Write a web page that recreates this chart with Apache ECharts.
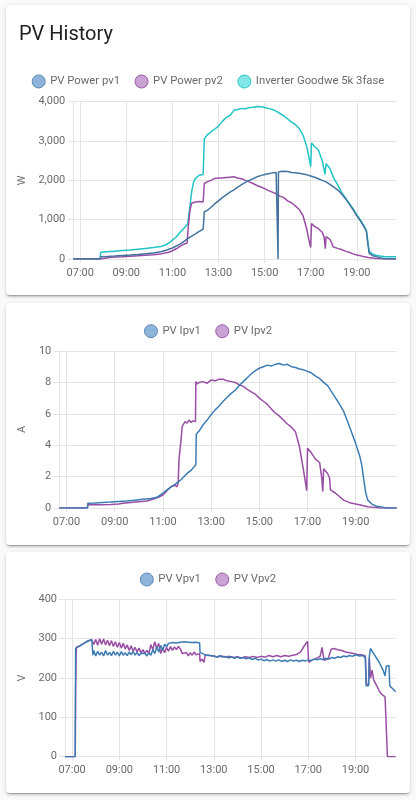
<!DOCTYPE html>
<html>
<head>
<meta charset="utf-8">
<script src="https://cdn.jsdelivr.net/npm/echarts@6/dist/echarts.min.js"></script>
<style>
  html, body { margin: 0; padding: 0; background: #fafafa; width: 416px; height: 800px; overflow: hidden; }
  .card { position: absolute; left: 6px; width: 404px; background: #fff; border-radius: 4px;
          box-shadow: 0 2px 2px 0 rgba(0,0,0,0.14), 0 1px 5px 0 rgba(0,0,0,0.12), 0 3px 1px -2px rgba(0,0,0,0.2); }
  #chart { position: absolute; left: 0; top: 0; width: 416px; height: 800px; }
</style>
</head>
<body>
<div class="card" style="top:5px;height:290px"></div>
<div class="card" style="top:303px;height:242px"></div>
<div class="card" style="top:552px;height:241px"></div>
<div id="chart"></div>
<script>
// ---- data (time "HH:MM", value) ----
const timeRange = ["06:42", "20:42"];
const hourTicks = [7, 9, 11, 13, 15, 17, 19];

const powerPv1 = [["06:42",0],["07:52",0],["07:53",60],["08:10",65],["08:30",75],["08:50",90],["09:10",100],["09:30",115],["09:50",135],["10:10",150],["10:30",185],["10:45",230],["11:00",280],["11:10",330],["11:20",380],["11:30",450],["11:40",520],["11:50",580],["12:00",640],["12:10",700],["12:20",760],["12:22",780],["12:23",1200],["12:30",1230],["12:40",1310],["12:50",1400],["13:00",1480],["13:10",1560],["13:20",1630],["13:30",1700],["13:40",1760],["13:50",1830],["14:00",1890],["14:10",1950],["14:20",2000],["14:30",2040],["14:40",2090],["14:50",2120],["15:00",2150],["15:10",2170],["15:20",2190],["15:30",2200],["15:34",2210],["15:35",0],["15:36",2215],["15:45",2230],["15:50",2210],["16:00",2225],["16:10",2200],["16:20",2195],["16:30",2180],["16:40",2160],["16:50",2140],["17:00",2110],["17:10",2080],["17:20",2040],["17:30",2000],["17:40",1960],["17:50",1900],["18:00",1830],["18:10",1760],["18:20",1660],["18:30",1540],["18:40",1400],["18:50",1260],["19:00",1100],["19:10",960],["19:20",800],["19:25",700],["19:28",450],["19:32",150],["19:40",90],["19:50",60],["20:00",35],["20:10",15],["20:20",5],["20:30",0],["20:42",0]];

const powerPv2 = [["06:42",0],["07:52",0],["07:53",40],["08:20",45],["08:50",55],["09:10",70],["09:30",80],["09:50",95],["10:10",110],["10:30",130],["10:50",170],["11:00",210],["11:10",260],["11:20",320],["11:30",380],["11:35",360],["11:38",400],["11:42",900],["11:46",1250],["11:50",1420],["12:00",1450],["12:05",1420],["12:10",1460],["12:15",1440],["12:20",1450],["12:22",1470],["12:23",1920],["12:30",1960],["12:40",2000],["12:50",2050],["13:00",2060],["13:10",2060],["13:20",2070],["13:30",2080],["13:40",2090],["13:50",2060],["14:00",2040],["14:10",2000],["14:20",1960],["14:30",1920],["14:40",1870],["14:50",1830],["15:00",1790],["15:10",1740],["15:20",1700],["15:30",1660],["15:40",1600],["15:50",1560],["16:00",1480],["16:10",1430],["16:20",1350],["16:30",1260],["16:40",1100],["16:50",750],["16:55",500],["17:00",290],["17:02",900],["17:10",830],["17:20",770],["17:30",680],["17:35",550],["17:38",260],["17:40",570],["17:50",500],["17:55",400],["17:58",310],["18:10",270],["18:20",240],["18:30",200],["18:40",170],["18:50",130],["19:00",100],["19:10",80],["19:20",55],["19:30",40],["19:45",20],["20:00",5],["20:10",0],["20:42",0]];

const powerInverter = [["06:42",0],["07:52",0],["07:53",170],["08:10",185],["08:30",200],["08:50",215],["09:10",230],["09:30",250],["09:50",270],["10:10",290],["10:30",320],["10:40",350],["10:50",400],["11:00",480],["11:10",560],["11:20",680],["11:30",780],["11:35",830],["11:40",900],["11:45",1300],["11:50",1700],["11:55",1950],["12:00",2050],["12:10",2130],["12:20",2150],["12:22",2200],["12:23",3050],["12:30",3150],["12:40",3230],["12:50",3300],["13:00",3380],["13:10",3500],["13:20",3600],["13:30",3650],["13:40",3780],["13:50",3800],["14:00",3830],["14:10",3820],["14:20",3850],["14:30",3860],["14:40",3880],["14:50",3870],["15:00",3850],["15:10",3830],["15:20",3800],["15:30",3760],["15:40",3700],["15:50",3640],["16:00",3560],["16:10",3480],["16:20",3420],["16:30",3320],["16:40",3150],["16:50",2850],["16:55",2600],["17:00",2350],["17:02",2950],["17:10",2860],["17:20",2770],["17:30",2500],["17:37",2150],["17:40",2420],["17:50",2300],["18:00",2050],["18:10",1890],["18:20",1700],["18:30",1560],["18:40",1420],["18:50",1280],["19:00",1120],["19:10",980],["19:20",820],["19:25",720],["19:28",500],["19:32",200],["19:40",130],["19:50",95],["20:00",75],["20:15",60],["20:42",60]];

const ipv1 = [["06:42",0],["07:52",0],["07:53",0.3],["08:10",0.32],["08:30",0.35],["08:50",0.38],["09:10",0.42],["09:30",0.45],["09:50",0.5],["10:10",0.55],["10:30",0.6],["10:45",0.68],["11:00",0.95],["11:15",1.25],["11:30",1.5],["11:45",1.8],["12:00",2.2],["12:10",2.4],["12:22",2.75],["12:23",4.7],["12:30",4.9],["12:40",5.3],["12:50",5.6],["13:00",5.95],["13:10",6.25],["13:20",6.5],["13:30",6.8],["13:40",7.05],["13:50",7.3],["14:00",7.5],["14:10",7.8],["14:20",8.05],["14:30",8.3],["14:40",8.55],["14:50",8.75],["15:00",8.9],["15:10",9.0],["15:20",9.1],["15:30",9.05],["15:40",9.15],["15:50",9.2],["16:00",9.1],["16:10",9.15],["16:20",9.0],["16:30",8.95],["16:40",8.85],["16:50",8.8],["17:00",8.7],["17:10",8.6],["17:20",8.4],["17:30",8.25],["17:40",8.0],["17:50",7.8],["18:00",7.4],["18:10",7.0],["18:20",6.6],["18:30",6.15],["18:40",5.5],["18:50",4.8],["19:00",4.1],["19:10",3.3],["19:15",2.75],["19:20",1.8],["19:25",0.95],["19:30",0.5],["19:40",0.25],["19:50",0.13],["20:00",0.08],["20:10",0.04],["20:15",0],["20:42",0]];

const ipv2 = [["06:42",0],["07:52",0],["07:53",0.2],["08:20",0.2],["08:50",0.22],["09:10",0.25],["09:20",0.3],["09:40",0.35],["10:00",0.4],["10:20",0.45],["10:40",0.6],["10:50",0.7],["11:00",0.83],["11:10",1.1],["11:20",1.35],["11:30",1.45],["11:35",1.35],["11:38",1.6],["11:40",3.1],["11:45",4.3],["11:48",5.2],["11:55",5.5],["12:00",5.4],["12:05",5.6],["12:10",5.45],["12:15",5.55],["12:21",5.5],["12:22",8.05],["12:25",7.9],["12:30",8.0],["12:40",8.05],["12:50",7.95],["13:00",8.15],["13:10",8.1],["13:20",8.2],["13:30",8.2],["13:40",8.1],["13:50",8.05],["14:00",8.0],["14:10",7.85],["14:20",7.75],["14:30",7.55],["14:40",7.4],["14:50",7.25],["15:00",7.0],["15:10",6.8],["15:20",6.6],["15:30",6.3],["15:40",6.05],["15:50",5.85],["16:00",5.6],["16:10",5.35],["16:20",5.15],["16:30",4.85],["16:40",3.9],["16:50",2.4],["16:58",1.1],["17:00",3.8],["17:10",3.5],["17:20",3.1],["17:30",2.9],["17:35",2.0],["17:38",1.05],["17:40",2.5],["17:50",2.2],["17:55",1.9],["17:57",1.15],["18:10",0.94],["18:20",0.72],["18:30",0.5],["18:45",0.34],["19:00",0.25],["19:15",0.17],["19:30",0.08],["19:45",0.04],["20:00",0],["20:42",0]];

const vpv1 = [["06:42",0],["07:08",0],["07:09",275],["07:20",282],["07:30",288],["07:40",294],["07:50",297],["07:52",297],["07:53",258],["07:55",270],["08:00",256],["08:05",268],["08:10",258],["08:15",266],["08:20",256],["08:25",270],["08:30",258],["08:35",265],["08:40",257],["08:45",268],["08:50",258],["08:55",266],["09:00",256],["09:05",267],["09:10",258],["09:15",264],["09:20",257],["09:25",266],["09:30",259],["09:35",268],["09:40",258],["09:45",265],["09:50",257],["09:55",263],["10:00",258],["10:05",262],["10:10",256],["10:15",264],["10:20",258],["10:25",272],["10:30",262],["10:35",280],["10:40",266],["10:45",283],["10:50",270],["10:55",286],["11:00",280],["11:05",288],["11:10",284],["11:15",290],["11:20",286],["11:25",289],["11:30",285],["11:35",291],["11:40",287],["11:45",292],["11:50",288],["11:55",291],["12:00",286],["12:05",290],["12:10",287],["12:15",291],["12:20",288],["12:24",289],["12:25",265],["12:30",260],["12:40",258],["12:50",257],["13:00",256],["13:07",253],["13:15",257],["13:22",253],["13:30",255],["13:37",251],["13:45",254],["13:52",250],["14:00",253],["14:07",250],["14:15",252],["14:22",249],["14:30",251],["14:37",247],["14:45",250],["14:52",246],["15:00",248],["15:07",244],["15:15",247],["15:22",243],["15:30",246],["15:37",243],["15:45",246],["15:52",242],["16:00",245],["16:07",242],["16:15",246],["16:22",243],["16:30",245],["16:37",242],["16:45",245],["16:52",243],["17:00",246],["17:07",244],["17:15",248],["17:22",246],["17:30",249],["17:37",247],["17:45",250],["17:52",248],["18:00",252],["18:07",250],["18:15",254],["18:22",252],["18:30",256],["18:37",254],["18:45",257],["18:52",255],["19:00",259],["19:10",256],["19:20",257],["19:25",250],["19:27",180],["19:33",180],["19:35",255],["19:38",275],["19:42",270],["19:46",262],["19:50",258],["20:00",240],["20:05",235],["20:10",220],["20:15",205],["20:18",230],["20:25",232],["20:27",180],["20:35",172],["20:42",165]];

const vpv2 = [["06:42",0],["07:08",0],["07:09",175],["07:10",245],["07:11",278],["07:20",282],["07:30",288],["07:40",294],["07:50",297],["07:52",296],["07:55",285],["08:00",298],["08:05",283],["08:10",300],["08:15",286],["08:20",299],["08:25",284],["08:30",296],["08:35",282],["08:40",295],["08:45",280],["08:50",292],["08:55",278],["09:00",290],["09:05",276],["09:10",288],["09:15",274],["09:20",284],["09:25",270],["09:30",282],["09:35",268],["09:40",278],["09:45",266],["09:50",276],["09:55",264],["10:00",272],["10:05",262],["10:10",270],["10:15",262],["10:20",285],["10:25",272],["10:30",292],["10:35",275],["10:40",288],["10:45",262],["10:50",276],["10:55",264],["11:00",278],["11:05",268],["11:10",280],["11:15",270],["11:20",279],["11:25",272],["11:30",280],["11:35",274],["11:40",262],["11:45",258],["11:50",265],["11:55",256],["12:00",264],["12:05",258],["12:10",266],["12:15",259],["12:20",263],["12:24",262],["12:25",242],["12:30",248],["12:35",240],["12:38",258],["12:45",258],["13:00",256],["13:10",253],["13:20",256],["13:30",253],["13:40",255],["13:50",252],["14:00",254],["14:10",251],["14:20",254],["14:30",252],["14:40",255],["14:50",252],["15:00",255],["15:10",253],["15:20",257],["15:30",254],["15:40",257],["15:50",254],["16:00",257],["16:10",255],["16:20",258],["16:30",260],["16:40",266],["16:50",282],["16:58",293],["17:00",290],["17:01",240],["17:10",246],["17:20",250],["17:30",255],["17:35",278],["17:38",282],["17:40",245],["17:45",240],["17:50",248],["17:55",252],["17:58",273],["18:05",275],["18:15",272],["18:25",270],["18:35",266],["18:45",264],["18:55",262],["19:05",260],["19:15",259],["19:25",256],["19:27",185],["19:33",182],["19:35",250],["19:38",200],["19:42",220],["19:46",195],["19:50",190],["19:55",178],["20:00",168],["20:05",160],["20:10",155],["20:15",152],["20:20",150],["20:21",0],["20:42",0]];

// ---- helpers ----
function toH(t) { const p = t.split(':'); return Number(p[0]) + Number(p[1]) / 60; }
function pts(arr) { return arr.map(d => [toH(d[0]), d[1]]); }
function pad(n) { return (n < 10 ? '0' : '') + n; }

const FONT = 'Roboto, "Noto Sans", sans-serif';
const GRID_COLOR = '#e4e4e4';
const LABEL_COLOR = '#6a6a6a';

const C_BLUE1 = '#44739e', C_BLUE = '#3d7cb3', C_PURPLE = '#984ea3', C_CYAN = '#22c4c6';
const legendStyles = {
  blue: { color: '#8fb4d9', borderColor: '#5b87b5', borderWidth: 1 },
  purple: { color: '#caa3d4', borderColor: '#9b5aa8', borderWidth: 1 },
  cyan: { color: '#80e6e6', borderColor: '#2ec8c8', borderWidth: 1 }
};

const grids = [
  { left: 73.3, top: 101.7, width: 322.7, height: 157.3 },
  { left: 59.3, top: 351, width: 337.4, height: 157 },
  { left: 65, top: 599.3, width: 330.7, height: 157.4 }
];

function xAxis(i) {
  return {
    type: 'value', gridIndex: i, min: toH(timeRange[0]), max: toH(timeRange[1]),
    axisLine: { show: true, lineStyle: { color: GRID_COLOR, width: 1 } },
    axisTick: { show: true, length: 4, customValues: hourTicks, lineStyle: { color: GRID_COLOR } },
    splitLine: { show: true, lineStyle: { color: GRID_COLOR, width: 1 } },
    axisLabel: { customValues: hourTicks, margin: 8.5, color: LABEL_COLOR, fontSize: 11, fontFamily: FONT,
                 formatter: v => pad(Math.round(v)) + ':00' }
  };
}
function yAxis(i, max, interval, name, nameGap) {
  return {
    type: 'value', gridIndex: i, min: 0, max: max, interval: interval,
    name: name, nameLocation: 'middle', nameGap: nameGap,
    nameTextStyle: { color: LABEL_COLOR, fontSize: 11, fontFamily: FONT },
    axisLine: { show: true, lineStyle: { color: GRID_COLOR, width: 1 } },
    axisTick: { show: true, length: 6, lineStyle: { color: GRID_COLOR } },
    splitLine: { show: true, lineStyle: { color: GRID_COLOR, width: 1 } },
    axisLabel: { margin: 8, color: LABEL_COLOR, fontSize: 11, fontFamily: FONT,
                 formatter: v => v.toLocaleString('en-US') }
  };
}
function line(name, data, color, i, z) {
  return { type: 'line', name: name, data: pts(data), xAxisIndex: i, yAxisIndex: i,
           showSymbol: false, symbol: 'none', z: z, color: color,
           lineStyle: { color: color, width: 1.5 }, emphasis: { disabled: true } };
}
function legend(top, items) {
  return { top: top, left: 'center', padding: 0, itemWidth: 13, itemHeight: 13, itemGap: 14.5,
           icon: 'circle', textStyle: { color: LABEL_COLOR, fontSize: 11.3, fontFamily: FONT },
           selectedMode: false,
           data: items.map(it => ({ name: it[0], icon: 'circle', itemStyle: legendStyles[it[1]] })) };
}

const chart = echarts.init(document.getElementById('chart'), null, { renderer: 'canvas' });
chart.setOption({
  animation: false,
  backgroundColor: 'transparent',
  title: { text: 'PV History', left: 19, top: 25, padding: 0,
           textStyle: { fontSize: 20, fontWeight: 400, color: '#212121', fontFamily: FONT } },
  legend: [
    legend(74.5, [['PV Power pv1', 'blue'], ['PV Power pv2', 'purple'], ['Inverter Goodwe 5k 3fase', 'cyan']]),
    legend(324.2, [['PV Ipv1', 'blue'], ['PV Ipv2', 'purple']]),
    legend(572.5, [['PV Vpv1', 'blue'], ['PV Vpv2', 'purple']])
  ],
  grid: grids,
  xAxis: [xAxis(0), xAxis(1), xAxis(2)],
  yAxis: [yAxis(0, 4000, 1000, 'W', 40), yAxis(1, 10, 2, 'A', 25), yAxis(2, 400, 100, 'V', 30.5)],
  series: [
    line('PV Power pv1', powerPv1, C_BLUE1, 0, 4),
    line('PV Power pv2', powerPv2, C_PURPLE, 0, 3),
    line('Inverter Goodwe 5k 3fase', powerInverter, C_CYAN, 0, 2),
    line('PV Ipv1', ipv1, C_BLUE, 1, 4),
    line('PV Ipv2', ipv2, C_PURPLE, 1, 3),
    line('PV Vpv1', vpv1, C_BLUE, 2, 4),
    line('PV Vpv2', vpv2, C_PURPLE, 2, 3)
  ]
});
</script>
</body>
</html>
